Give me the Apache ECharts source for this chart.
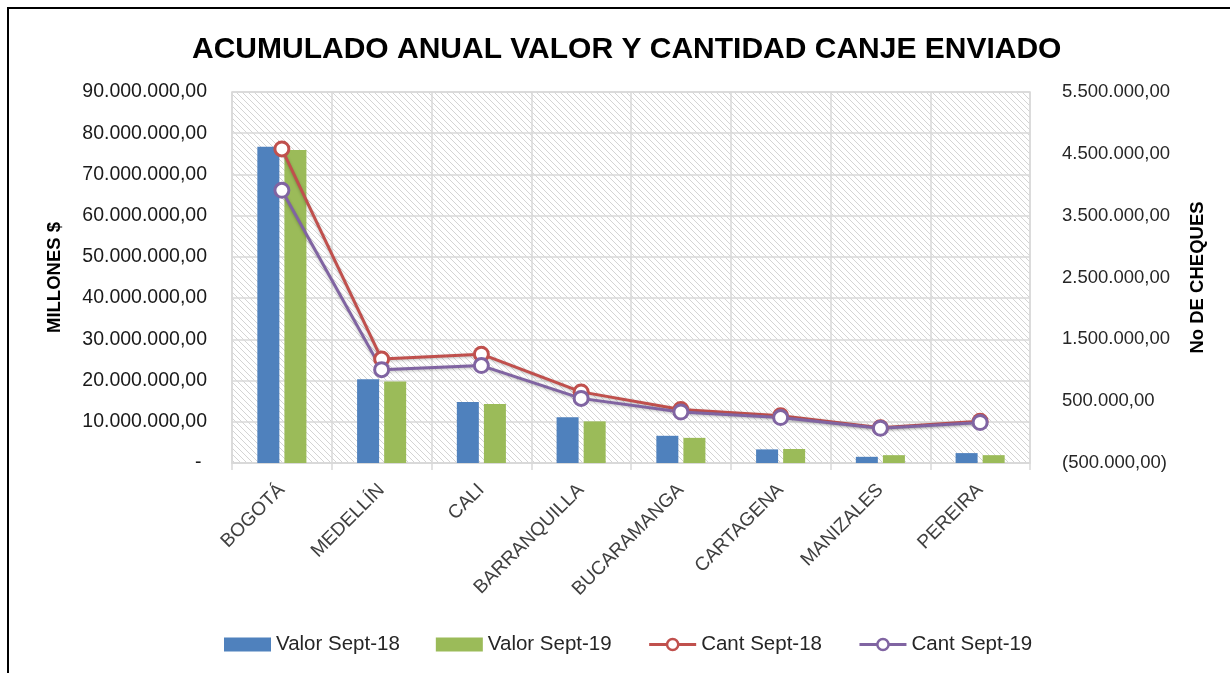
<!DOCTYPE html>
<html>
<head>
<meta charset="utf-8">
<script src="https://cdn.jsdelivr.net/npm/echarts@6/dist/echarts.min.js"></script>
<style>
  html, body { margin: 0; padding: 0; background: #fff; }
  #chart { width: 1230px; height: 673px; }
</style>
</head>
<body>
<div id="chart"></div>
<script>
// ciudades (eje X)
const categorias = ['BOGOTÁ', 'MEDELLÍN', 'CALI', 'BARRANQUILLA', 'BUCARAMANGA', 'CARTAGENA', 'MANIZALES', 'PEREIRA'];
// valor en millones (eje izquierdo)
const valorSept18 = [76700000, 20300000, 14800000, 11100000, 6600000, 3300000, 1500000, 2400000];
const valorSept19 = [75900000, 19800000, 14300000, 10100000, 6100000, 3400000, 1900000, 1900000];
// cantidad de cheques (eje derecho)
const cantSept18 = [4580000, 1180000, 1260000, 650000, 365000, 265000, 70000, 175000];
const cantSept19 = [3910000, 1010000, 1075000, 545000, 325000, 235000, 62000, 155000];
// escalas de los ejes
const ejeValor = [0, 90000000, 10000000];       // min, max, intervalo
const ejeCant = [-500000, 5500000, 1000000];    // min, max, intervalo

// formato 1.234.567,00  y negativos entre parentesis
function fmt(v) {
  var s = Math.abs(v).toFixed(2).split('.');
  var ent = s[0].replace(/\B(?=(\d{3})+(?!\d))/g, '.');
  var out = ent + ',' + s[1];
  return v < 0 ? '(' + out + ')' : out;
}

// fondo rayado del area de trazado
function rayado() {
  var s = 6;
  var c = document.createElement('canvas');
  c.width = s; c.height = s;
  var ctx = c.getContext('2d');
  ctx.fillStyle = '#ffffff';
  ctx.fillRect(0, 0, s, s);
  ctx.strokeStyle = '#d4d4d4';
  ctx.lineWidth = 1;
  [-s, 0, s].forEach(function (k) {
    ctx.beginPath();
    ctx.moveTo(k, 0);
    ctx.lineTo(k + s, s);
    ctx.stroke();
  });
  return c;
}

var FONT = 'Liberation Sans, Arial, sans-serif';
var myChart = echarts.init(document.getElementById('chart'));

var option = {
  backgroundColor: '#ffffff',
  animation: false,
  title: {
    text: 'ACUMULADO ANUAL VALOR Y CANTIDAD CANJE ENVIADO',
    left: 187,
    top: 30,
    textStyle: { fontFamily: FONT, fontSize: 30, fontWeight: 'bold', color: '#000' }
  },
  graphic: [{
    type: 'rect',
    shape: { x: 8, y: 8, width: 1400, height: 900 },
    style: { fill: 'none', stroke: '#000', lineWidth: 2 },
    silent: true
  }],
  legend: {
    bottom: 13,
    left: 219,
    itemWidth: 47,
    itemHeight: 14,
    itemGap: 36,
    lineStyle: { width: 3 },
    itemStyle: { borderWidth: 2.5 },
    textStyle: { fontFamily: FONT, fontSize: 20.5, color: '#262626' },
    data: [
      { name: 'Valor Sept-18', icon: 'rect' },
      { name: 'Valor Sept-19', icon: 'rect' },
      'Cant Sept-18',
      'Cant Sept-19'
    ]
  },
  grid: {
    left: 232,
    right: 200,
    top: 92,
    bottom: 210,
    show: true,
    backgroundColor: { image: rayado(), repeat: 'repeat' },
    borderColor: '#d9d9d9',
    borderWidth: 1.5
  },
  xAxis: {
    type: 'category',
    data: categorias,
    axisLine: { lineStyle: { color: '#d9d9d9', width: 1.5 } },
    axisTick: { show: true, length: 7, lineStyle: { color: '#d9d9d9', width: 1.5 } },
    splitLine: { show: true, lineStyle: { color: '#d9d9d9', width: 1.5 } },
    axisLabel: {
      rotate: 45,
      margin: 24,
      fontFamily: FONT,
      fontSize: 19,
      color: '#404040'
    }
  },
  yAxis: [{
    type: 'value',
    min: ejeValor[0],
    max: ejeValor[1],
    interval: ejeValor[2],
    name: 'MILLONES $',
    nameLocation: 'middle',
    nameRotate: 90,
    nameGap: 168,
    nameTextStyle: { fontFamily: FONT, fontSize: 18.5, fontWeight: 'bold', color: '#000' },
    axisLine: { show: false },
    axisTick: { show: false },
    splitLine: { lineStyle: { color: '#d9d9d9', width: 1.5 } },
    axisLabel: {
      margin: 25,
      fontFamily: FONT,
      fontSize: 19.5,
      color: '#1a1a1a',
      formatter: function (v) { return v === 0 ? '- ' : fmt(v); }
    }
  }, {
    type: 'value',
    min: ejeCant[0],
    max: ejeCant[1],
    interval: ejeCant[2],
    name: 'No DE CHEQUES',
    nameLocation: 'middle',
    nameRotate: 90,
    nameGap: 158,
    nameTextStyle: { fontFamily: FONT, fontSize: 18.5, fontWeight: 'bold', color: '#000' },
    axisLine: { show: false },
    axisTick: { show: false },
    splitLine: { show: false },
    axisLabel: {
      margin: 32,
      fontFamily: FONT,
      fontSize: 18.5,
      color: '#262626',
      formatter: fmt
    }
  }],
  series: [{
    name: 'Valor Sept-18',
    type: 'bar',
    data: valorSept18,
    barWidth: 22,
    barGap: '23%',
    itemStyle: { color: '#4f81bd' }
  }, {
    name: 'Valor Sept-19',
    type: 'bar',
    data: valorSept19,
    barWidth: 22,
    itemStyle: { color: '#9bbb59' }
  }, {
    name: 'Cant Sept-18',
    type: 'line',
    yAxisIndex: 1,
    data: cantSept18,
    symbol: 'circle',
    symbolSize: 14,
    lineStyle: { color: '#c0504d', width: 3, shadowColor: 'rgba(0,0,0,0.25)', shadowBlur: 3, shadowOffsetY: 1 },
    itemStyle: { color: '#ffffff', borderColor: '#c0504d', borderWidth: 3 }
  }, {
    name: 'Cant Sept-19',
    type: 'line',
    yAxisIndex: 1,
    data: cantSept19,
    symbol: 'circle',
    symbolSize: 14,
    lineStyle: { color: '#8064a2', width: 3, shadowColor: 'rgba(0,0,0,0.25)', shadowBlur: 3, shadowOffsetY: 1 },
    itemStyle: { color: '#ffffff', borderColor: '#8064a2', borderWidth: 3 }
  }]
};

myChart.setOption(option);
</script>
</body>
</html>
